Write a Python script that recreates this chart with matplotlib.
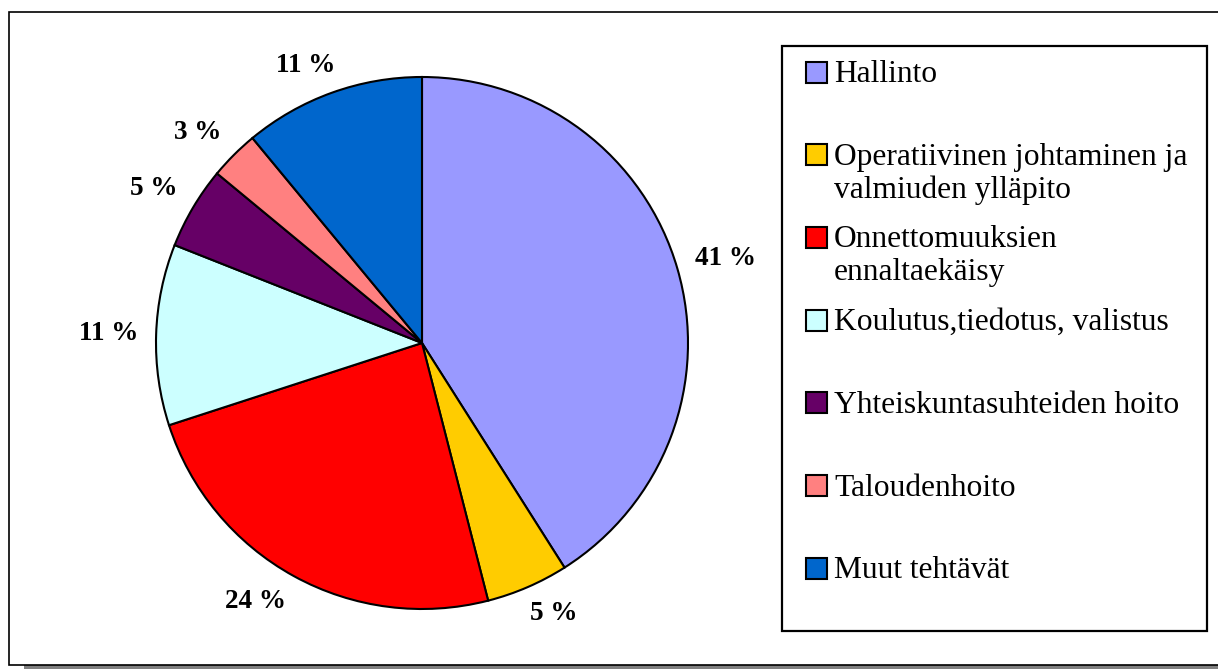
import numpy as np
import matplotlib.pyplot as plt
from matplotlib.patches import Rectangle

# data (percent)
categories = ["Hallinto",
              "Operatiivinen johtaminen ja\nvalmiuden ylläpito",
              "Onnettomuuksien\nennaltaekäisy",
              "Koulutus,tiedotus, valistus",
              "Yhteiskuntasuhteiden hoito",
              "Taloudenhoito",
              "Muut tehtävät"]
shares = [41, 5, 24, 11, 5, 3, 11]
colors = ["#9999FF", "#FFCC00", "#FF0000", "#CCFFFF", "#660066", "#FF8080", "#0066CC"]

W, H = 1218, 669
fig = plt.figure(figsize=(W / 100, H / 100), dpi=100)
plt.rcParams['font.family'] = ['Liberation Serif', 'DejaVu Serif']


def px(x, y):
    # pixel coords (from top-left) -> figure fraction
    return x / W, 1 - y / H


# outer frame with grey shadow at the bottom
fig.patches.append(Rectangle(px(24, 669), (W - 24) / W, 4 / H, transform=fig.transFigure,
                             facecolor="#808080", edgecolor="none", zorder=0))
fig.patches.append(Rectangle(px(9, 665), (W + 10 - 9) / W, (665 - 12) / H, transform=fig.transFigure,
                             facecolor="white", edgecolor="black", lw=1.2, zorder=0.5))

# pie, center (422,343) radius 266 px
r_px = 266
lim = 1.2
side = r_px * lim * 2
cx, cy = 422, 343
ax = fig.add_axes([(cx - side / 2) / W, (H - cy - side / 2) / H, side / W, side / H])
ax.set_zorder(2)
ax.patch.set_alpha(0)
wedges, texts, autotexts = ax.pie(shares, colors=colors, startangle=90, counterclock=False,
                                  autopct=lambda p: f"{round(p)} %", pctdistance=1.16,
                                  wedgeprops=dict(edgecolor="black", linewidth=1.5),
                                  textprops=dict(fontsize=19.5, fontweight="bold", color="black"))
ax.set_xlim(-lim, lim)
ax.set_ylim(-lim, lim)
ax.set_aspect("equal")
ax.axis("off")

# excel-like label placement: the near corner of the label sits just outside the rim
fig.canvas.draw()
renderer = fig.canvas.get_renderer()
gap = 18 / r_px
for w, t in zip(wedges, autotexts):
    ang = np.deg2rad((w.theta1 + w.theta2) / 2)
    ux, uy = np.cos(ang), np.sin(ang)
    bb = t.get_window_extent(renderer)
    a = bb.width / 2 / r_px
    b = bb.height / 2 / r_px * 0.8
    sx = np.clip(ux * 2, -1, 1)
    sy = np.clip(uy * 2, -1, 1)
    t.set_position(((1 + gap) * ux + a * sx, (1 + gap) * uy + b * sy))
    t.set_ha("center")
    t.set_va("center")
    t.set_clip_on(False)

# legend box
lx0, ly0, lx1, ly1 = 782, 46, 1207, 631
fig.patches.append(Rectangle(px(lx0, ly1), (lx1 - lx0) / W, (ly1 - ly0) / H, transform=fig.transFigure,
                             facecolor="white", edgecolor="black", lw=1.6, zorder=2))
step = 82.7
for i, (name, col) in enumerate(zip(categories, colors)):
    yc = 72 + i * step
    fig.patches.append(Rectangle(px(806, yc + 10.5), 21 / W, 21 / H, transform=fig.transFigure,
                                 facecolor=col, edgecolor="black", lw=1.5, zorder=3))
    for j, line in enumerate(name.split("\n")):
        x, y = px(834, yc + 10 + j * 33)
        fig.text(x, y, line, fontsize=22.7, va="baseline", ha="left", zorder=4)

fig.savefig("out.png", dpi=100)
